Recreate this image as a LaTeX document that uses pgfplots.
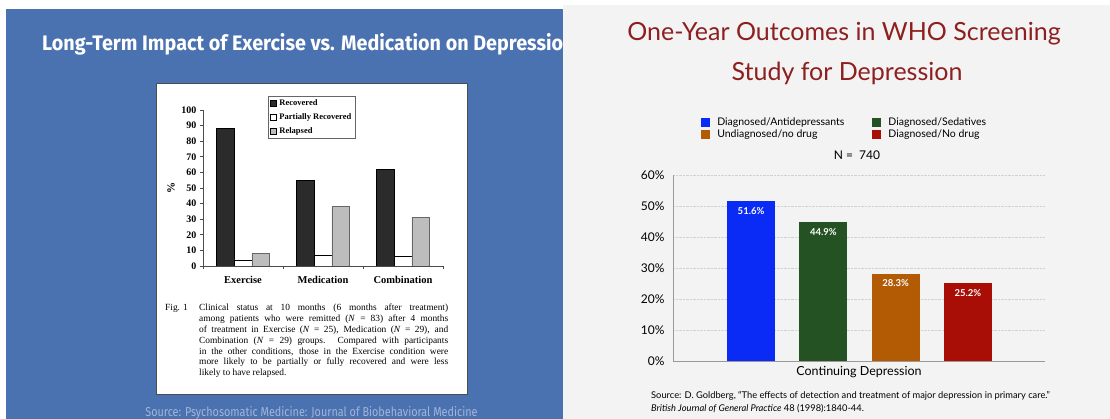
\documentclass[border=0pt]{standalone}
\usepackage{pgfplots}
\pgfplotsset{compat=1.18}
\usepackage{fontspec}
\setmainfont{Liberation Serif}
\newfontfamily\titlefont[FakeStretch=0.94]{Fira Sans}
\newfontfamily\srcfont[FakeStretch=0.84]{Fira Sans}
\newfontfamily\gill{Lato}
\definecolor{slideblue}{HTML}{4A71B0}
\definecolor{srcblue}{HTML}{A3B6DA}
\definecolor{rightbg}{HTML}{F3F3F3}
\definecolor{titlered}{HTML}{8E1F1F}
\definecolor{cblue}{HTML}{0A2BF5}
\definecolor{cgreen}{HTML}{245222}
\definecolor{corange}{HTML}{B35A05}
\definecolor{cred}{HTML}{A80D06}
\definecolor{dkbar}{HTML}{2B2B2B}
\definecolor{ltbar}{HTML}{BDBDBD}
\begin{document}
\begin{tikzpicture}
\path[use as bounding box] (0pt,0pt) rectangle (1110pt,419pt);
\fill[white] (0pt,0pt) rectangle (1110pt,419pt);
\fill[slideblue] (6pt,0pt) rectangle (563pt,410pt);
\fill[rightbg] (563pt,0pt) rectangle (1110pt,414pt);
\begin{scope}
\clip (6pt,0pt) rectangle (563pt,410pt);
\node[anchor=base west, text=white, font=\titlefont\bfseries\fontsize{21}{24}\selectfont, inner sep=0] at (42pt,368pt) {Long-Term Impact of Exercise vs. Medication on Depression};
\node[anchor=base, text=srcblue, font=\srcfont\fontsize{12.9}{15}\selectfont, inner sep=0] at (311.5pt,2pt) {Source: Psychosomatic Medicine: Journal of Biobehavioral Medicine};
\end{scope}
\draw[fill=white, draw=black!70, line width=0.8pt] (156pt,25pt) rectangle (467pt,336pt);
% left chart
\begin{axis}[
  at={(203pt,153pt)}, anchor=south west,
  width=240pt, height=156pt, scale only axis,
  ybar=0pt, bar width=17.7pt,
  xmin=-0.5, xmax=2.5, ymin=0, ymax=100,
  axis lines*=left, axis line style={black!70, line width=0.6pt},
  xtick={-0.5,0.5,1.5,2.5}, x tick label as interval,
  xticklabels={Exercise,Medication,Combination},
  x tick label style={font=\bfseries\fontsize{10.5}{12}\selectfont, yshift=-4pt},
  ytick={0,10,...,100},
  y tick label style={font=\bfseries\fontsize{10}{12}\selectfont},
  /pgf/number format/assume math mode=true,
  tick align=outside, major tick length=3pt,
  tick style={black!70, line width=0.6pt},
  ylabel={\%}, ylabel style={at={(axis description cs:-0.133,0.5)}, anchor=center, font=\bfseries\fontsize{11}{12}\selectfont},
  legend style={at={(axis description cs:0.27,1.09)}, anchor=north west, draw=black!60, fill=white, font=\bfseries\fontsize{8.5}{9}\selectfont, inner sep=1.5pt, row sep=2.5pt, legend cell align=left},
  every axis plot post/.append style={legend image code/.code={\draw[##1, draw=black, line width=0.4pt] (0pt,-3pt) rectangle (6pt,3pt); \path (7.5pt,0pt);}},
]
\addplot[fill=dkbar, draw=black, line width=0.5pt] coordinates {(0,88) (1,55) (2,62)};
\addplot[fill=white, draw=black, line width=0.5pt] coordinates {(0,4) (1,7) (2,6)};
\addplot[fill=ltbar, draw=black!60, line width=0.5pt] coordinates {(0,8) (1,38) (2,31)};
\legend{Recovered, Partially Recovered, Relapsed}
\end{axis}
\node[anchor=base west, inner sep=0, text width=283pt, font=\fontsize{9.4}{10.8}\selectfont, align=justify] at (165pt,108pt) {\hangindent=34pt \hangafter=1 \makebox[34pt][l]{Fig. 1}Clinical status at 10 months (6 months after treatment)\linebreak among patients who were remitted (\textit{N} = 83) after 4 months\linebreak of treatment in Exercise (\textit{N} = 25), Medication (\textit{N} = 29), and\linebreak Combination (\textit{N} = 29) groups. Compared with participants\linebreak in the other conditions, those in the Exercise condition were\linebreak more likely to be partially or fully recovered and were less\linebreak likely to have relapsed.\par};
% right slide
\node[anchor=base, text=titlered, font=\gill\fontsize{25}{30}\selectfont, inner sep=0] at (844pt,378pt) {One-Year Outcomes in WHO Screening};
\node[anchor=base, text=titlered, font=\gill\fontsize{25}{30}\selectfont, inner sep=0] at (847pt,338pt) {Study for Depression};
\node[anchor=center, font=\gill\fontsize{12}{14}\selectfont, inner sep=0] at (857pt,264pt) {N =\ \ 740};
\begin{axis}[
  at={(673pt,58pt)}, anchor=south west,
  width=372pt, height=185.5pt, scale only axis,
  xmin=-0.079, xmax=5.066, ymin=0, ymax=60,
  bar width=48pt,
  axis lines*=left, axis line style={black!40, line width=0.8pt},
  xtick=\empty, ytick={0,10,...,60},
  ytick style={draw=none},
  yticklabel={\pgfmathprintnumber{\tick}\%},
  y tick label style={font=\gill\fontsize{12}{14}\selectfont, xshift=-5pt},
  /pgf/number format/assume math mode=true,
  ymajorgrids, grid style={densely dotted, black!18, line width=0.6pt},
  xlabel={Continuing Depression},
  xlabel style={at={(axis description cs:0.5,0)}, anchor=center, yshift=-11pt, font=\gill\fontsize{12.5}{14}\selectfont},
  point meta=explicit symbolic,
  nodes near coords,
  nodes near coords style={anchor=north, yshift=-3pt, text=white, font=\gill\bfseries\fontsize{9.5}{11}\selectfont},
  legend columns=2,
  legend style={at={(axis description cs:0.0754,1.325)}, anchor=north west, draw=none, fill=none, font=\gill\fontsize{10.5}{12}\selectfont, inner sep=0pt, row sep=-1pt, /tikz/every even column/.append style={column sep=26pt}, legend cell align=left},
  legend image code/.code={\fill[#1] (0pt,-4.5pt) rectangle (9pt,4.5pt); \path (14pt,0pt);},
]
\addplot[ybar, bar shift=0pt, fill=cblue, draw=none] coordinates {(1,51.6) [51.6\%]};
\addplot[ybar, bar shift=0pt, fill=cgreen, draw=none] coordinates {(2,44.9) [44.9\%]};
\addplot[ybar, bar shift=0pt, fill=corange, draw=none] coordinates {(3,28.3) [28.3\%]};
\addplot[ybar, bar shift=0pt, fill=cred, draw=none] coordinates {(4,25.2) [25.2\%]};
\legend{Diagnosed/Antidepressants, Diagnosed/Sedatives, Undiagnosed/no drug, Diagnosed/No drug}
\end{axis}
\node[anchor=base west, inner sep=0, font=\gill\fontsize{9.3}{10}\selectfont] at (651pt,20pt) {Source: D. Goldberg, “The effects of detection and treatment of major depression in primary care.”};
\node[anchor=base west, inner sep=0, font=\gill\fontsize{9.3}{10}\selectfont] at (651pt,7pt) {\textit{British Journal of General Practice} 48 (1998):1840-44.};
\end{tikzpicture}
\end{document}
